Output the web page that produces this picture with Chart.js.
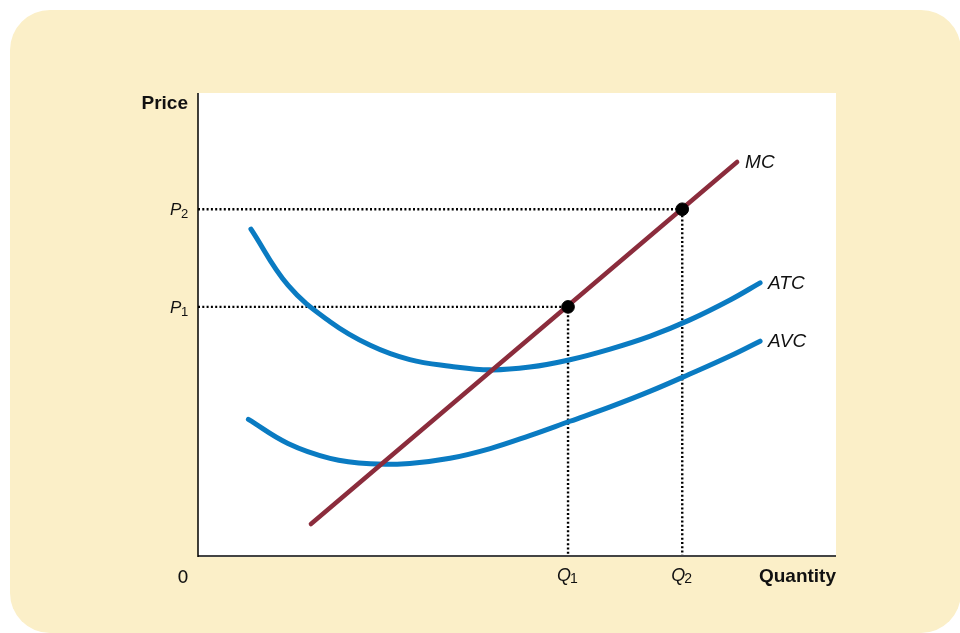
<!DOCTYPE html>
<html>
<head>
<meta charset="utf-8">
<script src="https://cdn.jsdelivr.net/npm/chart.js@4"></script>
<style>
  html, body { margin: 0; padding: 0; background: #fff; overflow: hidden; }
  #panel {
    position: absolute; left: 10px; top: 10px; width: 951px; height: 623px;
    background: #FBEFC8; border-radius: 40px;
  }
  #chart { position: absolute; left: 0; top: 0; }
</style>
</head>
<body>
<div id="panel"></div>
<canvas id="chart" width="960" height="633"></canvas>
<script>
// cost curves, quantity 0-100 on x, price 0-100 on y
const atcQ = [8.3, 14.1, 20.7, 27.0, 33.2, 39.5, 45.8, 52.0, 58.3, 64.6, 70.9, 77.1, 83.4, 88.1];
const atcP = [70.6, 58.5, 50.6, 45.5, 42.4, 41.0, 40.2, 40.8, 42.4, 44.7, 47.5, 51.0, 55.3, 59.0];

const avcQ = [7.9, 14.1, 20.7, 27.0, 33.2, 39.5, 45.8, 52.0, 58.3, 64.6, 70.9, 77.1, 83.4, 88.1];
const avcP = [29.5, 24.3, 21.1, 19.9, 20.0, 21.1, 23.2, 26.0, 29.1, 32.2, 35.6, 39.3, 43.2, 46.4];

const mcQ = [17.7, 84.5];
const mcP = [6.9, 85.1];

// equilibrium points (Q1,P1) and (Q2,P2)
const qLevels = [58.0, 75.9];
const pLevels = [53.8, 74.9];
const qNames = ['1', '2'];

const curveNames = ['MC', 'ATC', 'AVC'];

const toXY = (xs, ys) => xs.map((x, i) => ({ x: x, y: ys[i] }));

const BLUE = '#0A7BC2';
const MAROON = '#8B2C3C';

const datasets = [];
// dotted guides
qLevels.forEach((q, i) => {
  const p = pLevels[i];
  datasets.push({
    data: [{ x: 0, y: p }, { x: q, y: p }, { x: q, y: 0 }],
    borderColor: '#000', borderWidth: 2.4, borderDash: [2, 2.3],
    pointRadius: 0, tension: 0, order: 4,
  });
});
datasets.push({
  label: 'ATC', data: toXY(atcQ, atcP), borderColor: BLUE, borderWidth: 5,
  borderCapStyle: 'round', pointRadius: 0, tension: 0.4, order: 3,
});
datasets.push({
  label: 'AVC', data: toXY(avcQ, avcP), borderColor: BLUE, borderWidth: 5,
  borderCapStyle: 'round', pointRadius: 0, tension: 0.4, order: 2,
});
datasets.push({
  label: 'MC', data: toXY(mcQ, mcP), borderColor: MAROON, borderWidth: 4.5,
  borderCapStyle: 'round', pointRadius: 0, tension: 0, order: 1,
});
datasets.push({
  type: 'scatter', data: toXY(qLevels, pLevels), backgroundColor: '#000',
  borderColor: '#000', pointRadius: 6.3, order: 0,
});

const decor = {
  id: 'decor',
  beforeDatasetsDraw(chart) {
    const { ctx, chartArea: a } = chart;
    ctx.save();
    ctx.fillStyle = '#fff';
    ctx.fillRect(a.left, a.top, a.right - a.left, a.bottom - a.top);
    ctx.restore();
  },
  afterDraw(chart) {
    const { ctx, chartArea: a, scales } = chart;
    const xs = scales.x, ys = scales.y;
    ctx.save();
    // axes
    ctx.strokeStyle = '#444';
    ctx.lineWidth = 2;
    ctx.beginPath();
    ctx.moveTo(a.left, a.bottom);
    ctx.lineTo(a.right, a.bottom);
    ctx.stroke();
    ctx.strokeStyle = '#000';
    ctx.lineWidth = 1.5;
    ctx.beginPath();
    ctx.moveTo(a.left, a.top);
    ctx.lineTo(a.left, a.bottom + 1);
    ctx.stroke();

    ctx.fillStyle = '#111';
    ctx.textBaseline = 'alphabetic';
    // axis titles
    ctx.font = 'bold 19px "Liberation Sans", Arial, sans-serif';
    ctx.textAlign = 'right';
    ctx.fillText('Price', a.left - 10, a.top + 16);
    ctx.fillText('Quantity', a.right, a.bottom + 26);
    ctx.font = '18px "DejaVu Sans", sans-serif';
    ctx.textAlign = 'center';
    ctx.fillText('0', a.left - 15, a.bottom + 27);

    // P labels
    pLevels.forEach((p, i) => {
      const y = ys.getPixelForValue(p);
      ctx.font = 'italic 17px "Liberation Sans", Arial, sans-serif';
      ctx.textAlign = 'left';
      ctx.fillText('P', a.left - 28, y + 6);
      ctx.font = '13px "Liberation Sans", Arial, sans-serif';
      ctx.fillText(qNames[i], a.left - 17, y + 9);
    });
    // Q labels
    qLevels.forEach((q, i) => {
      const x = xs.getPixelForValue(q);
      ctx.font = 'italic 18px "Liberation Sans", Arial, sans-serif';
      ctx.textAlign = 'left';
      ctx.fillText('Q', x - 11, a.bottom + 25);
      ctx.font = '14px "Liberation Sans", Arial, sans-serif';
      ctx.fillText(qNames[i], x + 2, a.bottom + 27);
    });

    // curve labels at the right ends
    ctx.font = 'italic 19px "Liberation Sans", Arial, sans-serif';
    ctx.textAlign = 'left';
    const ends = [
      [mcQ[mcQ.length - 1], mcP[mcP.length - 1]],
      [atcQ[atcQ.length - 1], atcP[atcP.length - 1]],
      [avcQ[avcQ.length - 1], avcP[avcP.length - 1]],
    ];
    ends.forEach((e, i) => {
      const x = xs.getPixelForValue(e[0]);
      const y = ys.getPixelForValue(e[1]);
      ctx.fillText(curveNames[i], x + 8, y + 6);
    });
    ctx.restore();
  },
};

new Chart(document.getElementById('chart'), {
  type: 'line',
  data: { datasets: datasets },
  options: {
    responsive: false,
    animation: false,
    layout: { padding: { left: 198, top: 93, right: 124, bottom: 77 } },
    plugins: { legend: { display: false }, tooltip: { enabled: false } },
    scales: {
      x: { type: 'linear', min: 0, max: 100, display: false },
      y: { type: 'linear', min: 0, max: 100, display: false },
    },
  },
  plugins: [decor],
});
</script>
</body>
</html>
